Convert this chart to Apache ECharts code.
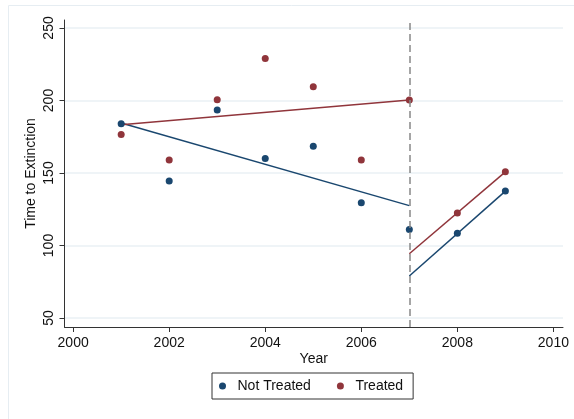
<!DOCTYPE html>
<html><head><meta charset="utf-8">
<script src="https://cdn.jsdelivr.net/npm/echarts@6/dist/echarts.min.js"></script>
<style>html,body{margin:0;padding:0;background:#fff}#c{width:574px;height:419px}</style>
</head><body><div id="c"></div>
<script>
const years = [2001, 2002, 2003, 2004, 2005, 2006, 2007, 2008, 2009];
const notTreated = [184, 144.5, 193.5, 160, 168.5, 129.5, 111, 108.5, 137.5];
const treated = [176.5, 159, 200.5, 229, 209.5, 159, 200.3, 122.4, 150.8];
const fitNotPre = [[2001, 184.5], [2007, 127.5]];
const fitTreatPre = [[2001, 183.3], [2007, 200.3]];
const fitNotPost = [[2007, 79], [2009, 137.5]];
const fitTreatPost = [[2007, 94.3], [2009, 150.8]];
const xTicks = [2000, 2002, 2004, 2006, 2008, 2010];
const yTicks = [50, 100, 150, 200, 250];
const cutYear = 2007;

const BLUE = '#1a476f', RED = '#90353b';
const font = 'Liberation Sans, Arial, sans-serif';
const chart = echarts.init(document.getElementById('c'));
const pts = arr => years.map((y, i) => [y, arr[i]]);
const fitLine = (data, color) => ({
  type: 'line', data, showSymbol: false, symbol: 'none', silent: true,
  lineStyle: { color, width: 1.5 }, z: 2
});
chart.setOption({
  animation: false,
  graphic: [{ type: 'rect', shape: { x: 8.5, y: 5.5, width: 700, height: 600 },
    style: { fill: 'none', stroke: '#e6edf2', lineWidth: 1 }, z: -10 }],
  grid: { left: 64.5, right: 11, top: 20, bottom: 92 },
  xAxis: {
    type: 'value', min: 1999.82, max: 2010.2,
    name: 'Year', nameLocation: 'middle', nameGap: 25, nameMoveOverlap: false,
    nameTextStyle: { fontFamily: font, fontSize: 14, color: '#111' },
    axisLine: { show: true, lineStyle: { color: '#333', width: 1 } },
    axisTick: { show: true, length: 5, lineStyle: { color: '#333' }, customValues: xTicks },
    axisLabel: { customValues: xTicks, margin: 9, fontFamily: font, fontSize: 14, color: '#111',
      formatter: v => String(v) },
    splitLine: { show: false }
  },
  yAxis: {
    type: 'value', min: 43.8, max: 255.5,
    name: 'Time to Extinction', nameLocation: 'middle', nameGap: 26, nameRotate: 90,
    nameMoveOverlap: false,
    nameTextStyle: { fontFamily: font, fontSize: 14, color: '#111' },
    axisLine: { show: true, lineStyle: { color: '#333', width: 1 } },
    axisTick: { show: true, length: 5, lineStyle: { color: '#333' }, customValues: yTicks },
    axisLabel: { customValues: yTicks, rotate: 90, margin: 8, fontFamily: font, fontSize: 14, color: '#111',
      formatter: v => String(v) },
    splitLine: { show: true, lineStyle: { color: '#eaf0f4', width: 1.5 } }
  },
  legend: {
    left: 212, top: 373, orient: 'horizontal',
    data: ['Not Treated', 'Treated'],
    icon: 'circle', itemWidth: 20, itemHeight: 7, itemGap: 26,
    padding: [6, 10, 6, 7],
    borderColor: '#333', borderWidth: 1, backgroundColor: '#fff',
    textStyle: { fontFamily: font, fontSize: 14, color: '#111' }
  },
  series: [
    fitLine(fitNotPre, BLUE), fitLine(fitTreatPre, RED),
    fitLine(fitNotPost, BLUE), fitLine(fitTreatPost, RED),
    { name: 'Not Treated', type: 'scatter', data: pts(notTreated), symbolSize: 7,
      itemStyle: { color: BLUE, opacity: 1 }, z: 3,
      markLine: { silent: true, symbol: 'none', label: { show: false },
        lineStyle: { color: '#888', type: [7, 4], width: 1.5 },
        data: [{ xAxis: cutYear }] } },
    { name: 'Treated', type: 'scatter', data: pts(treated), symbolSize: 7,
      itemStyle: { color: RED, opacity: 1 }, z: 3 }
  ]
});
</script></body></html>
